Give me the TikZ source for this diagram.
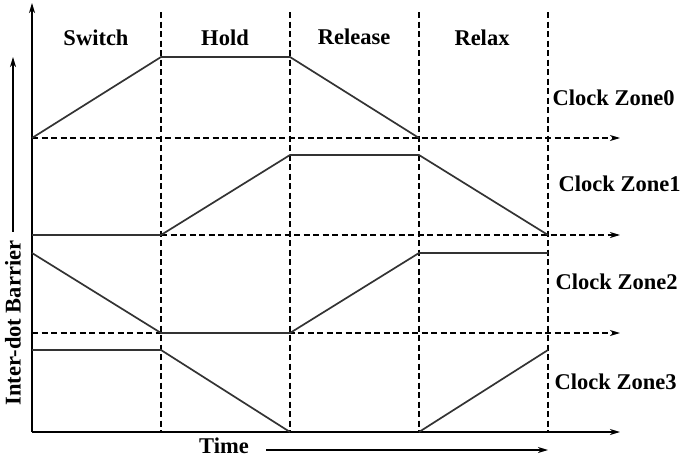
\documentclass[tikz,border=0pt]{standalone}
\usepackage{fontspec}
\setmainfont{Liberation Serif}
\usetikzlibrary{arrows.meta}
\begin{document}
\begin{tikzpicture}[x=1pt,y=-1pt,line width=1.4pt,
  tip/.style={-{Stealth[length=10pt,width=6pt,inset=3pt]}},
  dsh/.style={dash pattern=on 6pt off 3.5pt,line width=1.2pt},
  wave/.style={line width=1.7pt,draw=black!80},
  lab/.style={font=\fontsize{22.5}{26}\selectfont\bfseries,inner sep=0pt}]
\useasboundingbox (0,0) rectangle (685,458);
% grid coordinates
\coordinate (o) at (32,432);
\coordinate (ytop) at (32,3);
\coordinate (xend) at (620,432);
\foreach \n/\x in {1/161,2/290,3/419,4/548}{
  \coordinate (t\n) at (\x,12);
  \coordinate (b\n) at (\x,432);
}
% axes
\draw[tip] (o) -- (ytop);
\draw[tip] (o) -- (xend);
% vertical dashed lines
\foreach \n in {1,2,3,4} \draw[dsh] (t\n) -- (b\n);
% baselines
\coordinate (z0a) at (32,138);  \coordinate (z0e) at (620,138);
\coordinate (z1a) at (161,235); \coordinate (z1e) at (620,235);
\coordinate (z2a) at (32,333);  \coordinate (z2e) at (620,333);
\draw[dsh,tip] (z0a) -- (z0e);
\draw[dsh,tip] (z1a) -- (z1e);
\draw[dsh,tip] (z2a) -- (z2e);
% clock zone waves
\coordinate (p01) at (161,57); \coordinate (p02) at (290,57); \coordinate (p03) at (419,138);
\draw[wave] (z0a) -- (p01) -- (p02) -- (p03);
\coordinate (p10) at (32,235); \coordinate (p12) at (290,155); \coordinate (p13) at (419,155); \coordinate (p14) at (548,235);
\draw[wave] (p10) -- (z1a) -- (p12) -- (p13) -- (p14);
\coordinate (p20) at (32,253); \coordinate (p21) at (161,333); \coordinate (p22) at (290,333); \coordinate (p23) at (419,253); \coordinate (p24) at (548,253);
\draw[wave] (p20) -- (p21) -- (p22) -- (p23) -- (p24);
\coordinate (p30) at (32,350); \coordinate (p31) at (161,350); \coordinate (p32) at (290,432);
\coordinate (p33) at (419,432); \coordinate (p34) at (548,350);
\draw[wave] (p30) -- (p31) -- (p32);
\draw[wave] (p33) -- (p34);
% phase labels
\node[lab] (sw) at (96,38) {Switch};
\node[lab] (ho) at (225,38) {Hold};
\node[lab] (re) at (354,37) {Release};
\node[lab] (rx) at (482,38) {Relax};
% zone labels
\node[lab,anchor=west] (c0) at (552,98) {Clock Zone0};
\node[lab,anchor=west] (c1) at (558,184) {Clock Zone1};
\node[lab,anchor=west] (c2) at (555,282) {Clock Zone2};
\node[lab,anchor=west] (c3) at (554,382) {Clock Zone3};
% axis labels
\node[lab,rotate=90] (yl) at (13,323) {Inter-dot Barrier};
\coordinate (yarr) at (13,57);
\draw[tip] ([yshift=8pt]yl.east) -- (yarr);
\node[lab] (tl) at (224,446) {Time};
\coordinate (tarr) at (548,450);
\draw[tip] (266,450) -- (tarr);
\end{tikzpicture}
\end{document}
